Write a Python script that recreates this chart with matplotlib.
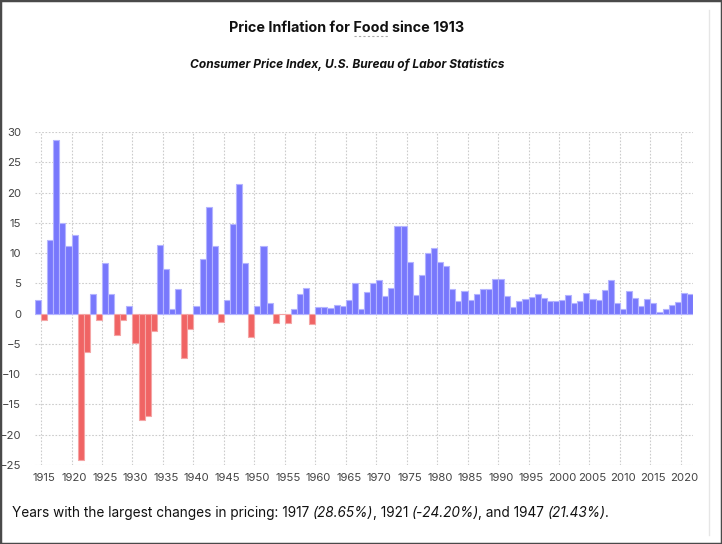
import matplotlib
matplotlib.use('Agg')
import matplotlib.pyplot as plt
from matplotlib.patches import Rectangle
from matplotlib.lines import Line2D

plt.rcParams['font.family'] = ['Inter', 'DejaVu Sans']

years = list(range(1914, 2022))
change = [2.3, -1.0, 12.1, 28.65, 15.0, 11.2, 12.95, -24.20, -6.3, 3.3,
          -1.0, 8.3, 3.3, -3.6, -1.1, 1.2, -4.9, -17.5, -16.9, -2.8,
          11.4, 7.3, 0.8, 4.0, -7.3, -2.6, 1.3, 9.1, 17.65, 11.15,
          -1.3, 2.2, 14.75, 21.43, 8.4, -3.9, 1.3, 11.15, 1.8, -1.6,
          -0.1, -1.5, 0.7, 3.2, 4.3, -1.7, 1.15, 1.1, 0.9, 1.4,
          1.3, 2.2, 5.0, 0.7, 3.6, 5.1, 5.6, 2.9, 4.3, 14.4,
          14.4, 8.5, 3.1, 6.3, 10.0, 10.9, 8.5, 7.8, 4.0, 2.1,
          3.8, 2.2, 3.2, 4.15, 4.1, 5.8, 5.8, 2.9, 1.15, 2.1,
          2.4, 2.8, 3.3, 2.6, 2.1, 2.1, 2.2, 3.1, 1.8, 2.1,
          3.4, 2.4, 2.3, 3.9, 5.5, 1.8, 0.7, 3.7, 2.6, 1.3,
          2.4, 1.8, 0.3, 0.8, 1.4, 1.9, 3.4, 3.3]
tick_years = list(range(1915, 2021, 5))
y_ticks = list(range(-25, 31, 5))

W, H = 722, 544
fig = plt.figure(figsize=(W / 100, H / 100), dpi=100)
ax = fig.add_axes([35 / W, 1 - 465 / H, (693 - 35) / W, (465 - 132) / H])

fill = ['#7878fc' if v >= 0 else '#f06464' for v in change]
edge = ['#b4b4ff' if v >= 0 else '#f5a5a5' for v in change]
ax.bar(years, change, width=1.0, color=fill, edgecolor=edge, linewidth=0.8, zorder=2)

ax.set_xlim(1913.5, 2021.5)
ax.set_ylim(-25, 30)
ax.set_yticks(y_ticks)
ax.set_xticks(tick_years)
ax.set_xticks([y - 0.5 for y in tick_years], minor=True)
ax.tick_params(axis='both', which='both', length=0, labelsize=8.2, colors='#444444')
ax.tick_params(axis='y', pad=10)
ax.tick_params(axis='x', pad=6)
ax.grid(False)
ax.yaxis.grid(True, color='#cccccc', linestyle=(0, (1.5, 1.5)), linewidth=0.8, zorder=0)
ax.xaxis.grid(True, which='minor', color='#cccccc', linestyle=(0, (1.5, 1.5)), linewidth=0.8, zorder=0)
for s in ax.spines.values():
    s.set_visible(False)

cx = 347 / W
title_size = 10.3
title = fig.text(cx, 1 - 28 / H, 'Price Inflation for Food since 1913', ha='center', va='center',
                 fontsize=title_size, fontweight='bold', color='#111111')
fig.text(cx, 1 - 65 / H, 'Consumer Price Index, U.S. Bureau of Labor Statistics', ha='center', va='center',
         fontsize=8.6, fontweight='bold', fontstyle='italic', color='#111111')

# dashed underline under "Food"
fig.canvas.draw()
r = fig.canvas.get_renderer()
tb = title.get_window_extent(r)
def tw(s):
    t = fig.text(0, 0, s, fontsize=title_size, fontweight='bold')
    w = t.get_window_extent(r).width
    t.remove()
    return w
x0 = tb.x0 + tw('Price Inflation for ')
x1 = x0 + tw('Food')
fig.add_artist(Line2D([x0 / W, x1 / W], [(tb.y0 - 1) / H] * 2, transform=fig.transFigure,
                      color='#aaaaaa', linewidth=0.8, linestyle=(0, (2, 2))))

# footer with italic percentages
parts = [('Years with the largest changes in pricing: 1917 ', 'normal'), ('(28.65%)', 'italic'),
         (', 1921 ', 'normal'), ('(-24.20%)', 'italic'), (', and 1947 ', 'normal'),
         ('(21.43%)', 'italic'), ('.', 'normal')]
prev = fig.text(12 / W, 1 - 520 / H, parts[0][0], fontsize=9.8, color='#111111', va='bottom')
for txt, style in parts[1:]:
    prev = ax.annotate(txt, xy=(1, 0), xycoords=prev, xytext=(-1 if style == 'normal' else 0, 0),
                       textcoords='offset pixels', va='bottom', ha='left', fontsize=9.8,
                       fontstyle=style, color='#111111', annotation_clip=False)

# card borders
fig.add_artist(Rectangle((0, 0), 1, 1, transform=fig.transFigure, fill=False,
                         edgecolor='#4a4a4a', linewidth=2.5))
fig.add_artist(Line2D([709 / W, 709 / W], [1 - 535 / H, 1 - 10 / H], transform=fig.transFigure,
                      color='#e6e6e6', linewidth=1))

fig.savefig('out.png', dpi=100)
